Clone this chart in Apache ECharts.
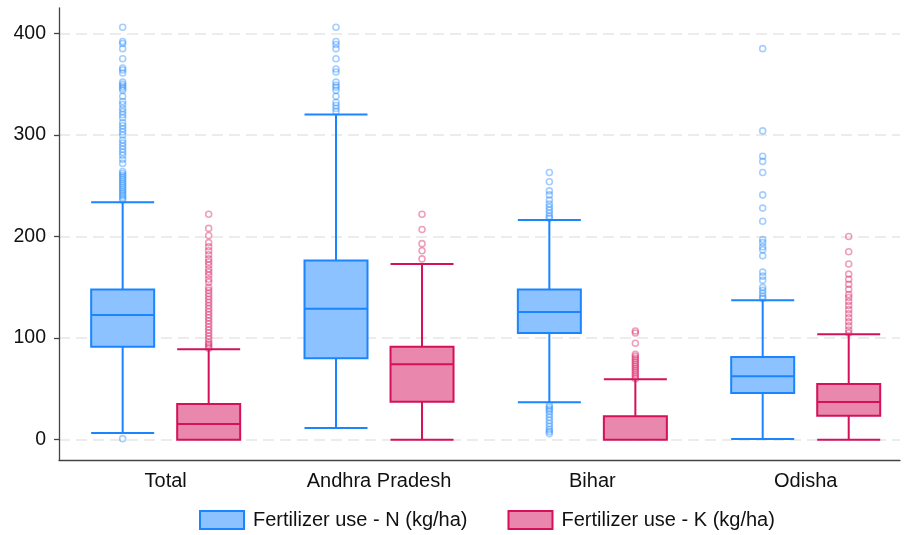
<!DOCTYPE html>
<html>
<head>
<meta charset="utf-8">
<script src="https://cdn.jsdelivr.net/npm/echarts@6/dist/echarts.min.js"></script>
<style>
html,body{margin:0;padding:0;background:#fff;}
#c{width:904px;height:535px;}
</style>
</head>
<body>
<div id="c"></div>
<script>
// ---- data ----
const categories = ['Total', 'Andhra Pradesh', 'Bihar', 'Odisha'];
const seriesNames = ['Fertilizer use - N (kg/ha)', 'Fertilizer use - K (kg/ha)'];
// [lower whisker, Q1, median, Q3, upper whisker]
const boxN = [
  [6.6, 91.6, 122.8, 147.8, 233.8],
  [11.5, 80.1, 129, 176.4, 320.2],
  [36.8, 105.1, 125.8, 147.8, 216.4],
  [0.7, 46, 62.4, 81.4, 137.3]
];
const boxK = [
  [0, 0, 15.4, 35.1, 89],
  [0, 37.4, 74.2, 91.6, 173],
  [0, 0, 0, 23, 59.4],
  [0, 23.6, 37.1, 54.9, 103.8]
];
const outliersN = [
  [406, 392, 390, 385, 375, 366, 364, 361, 352, 350, 348, 346, 344, 338, 333, 330, 326, 323, 320, 317, 312, 309, 306, 303, 300, 295, 292, 289, 286, 283, 280, 276, 272, 264, 262, 260, 258, 256, 254, 252, 250, 248, 246, 244, 242, 240, 238, 236, 1],
  [406, 392, 389, 385, 375, 365, 362, 352, 349, 347, 344, 338, 332, 329, 326, 323],
  [263, 254, 245, 241, 236, 232, 229, 226, 223, 220, 218, 34, 32, 30, 28, 25, 22, 19, 16, 13, 10, 8, 6],
  [385, 304, 279, 274, 263, 241, 228, 215, 197, 194, 190, 187, 181, 165, 161, 157, 150, 147, 144, 141, 139]
];
const outliersK = [
  [222, 208, 201, 194, 190, 186, 182, 178, 175, 172, 168, 165, 162, 158, 155, 150, 147, 144, 141, 138, 135, 132, 129, 126, 123, 120, 117, 114, 111, 108, 105, 102, 99, 96, 94, 92, 90],
  [222, 207, 193, 186, 178],
  [107, 105, 95, 84, 82, 80, 78, 76, 74, 72, 70, 68, 66, 64, 62, 60],
  [200, 185, 173, 163, 158, 153, 148, 143, 140, 136, 132, 128, 124, 120, 116, 112, 108, 105]
];

// ---- styles ----
const blueLine = '#1A85FF', blueFill = '#8CC2FF';
const pinkLine = '#D41159', pinkFill = '#E988AC';
const OFF = 0.2016;
const FONT = 'Liberation Sans, Arial, sans-serif';

function boxData(arr, off) {
  return arr.map((b, i) => [i + 1 + off].concat(b));
}
function outData(arr, off) {
  const out = [];
  arr.forEach((vals, i) => vals.forEach(v => out.push([i + 1 + off, v])));
  return out;
}

const xCommon = { type: 'value', min: 0.5, max: 4.442, interval: 0.5 };

const chart = echarts.init(document.getElementById('c'), null, { renderer: 'canvas' });
chart.setOption({
  animation: false,
  backgroundColor: '#fff',
  grid: { left: 59, right: 4, top: 8, bottom: 75, containLabel: false },
  legend: {
    data: [
      { name: seriesNames[0], icon: 'rect', itemStyle: { color: blueFill, borderColor: blueLine, borderWidth: 2 } },
      { name: seriesNames[1], icon: 'rect', itemStyle: { color: pinkFill, borderColor: pinkLine, borderWidth: 2 } }
    ],
    left: 194, top: 505,
    itemWidth: 44, itemHeight: 18, itemGap: 40,
    textStyle: { fontSize: 20, color: '#111', fontFamily: FONT, padding: [0, 0, 0, 4] },
    selectedMode: false
  },
  xAxis: [
    Object.assign({}, xCommon, {
      axisLine: { show: true, onZero: false, lineStyle: { color: '#444', width: 1.3 } },
      axisTick: { show: false },
      splitLine: { show: false },
      axisLabel: {
        fontSize: 20, color: '#111', fontFamily: FONT, margin: 11,
        showMinLabel: true, showMaxLabel: false,
        formatter: v => (Math.abs(v - Math.round(v)) < 1e-6 && v >= 1 && v <= 4) ? categories[Math.round(v) - 1] : ''
      }
    }),
    Object.assign({}, xCommon, { show: false, axisLine: { onZero: false } })
  ],
  yAxis: {
    type: 'value', min: -20, max: 425,
    axisLine: { show: true, onZero: false, lineStyle: { color: '#444', width: 1.3 } },
    axisTick: { show: true, length: 5, lineStyle: { color: '#444', width: 1.3 } },
    axisLabel: { fontSize: 19.5, color: '#111', fontFamily: FONT, margin: 13, showMinLabel: false, showMaxLabel: false },
    splitLine: { show: true, showMinLine: false, showMaxLine: false, lineStyle: { color: '#e6e6e6', width: 1.5, type: [11, 6] } }
  },
  series: [
    {
      name: seriesNames[0], type: 'boxplot', xAxisIndex: 0,
      data: boxData(boxN, -OFF),
      encode: { x: 0, y: [1, 2, 3, 4, 5] },
      boxWidth: [63, 63],
      itemStyle: { color: blueFill, borderColor: blueLine, borderWidth: 2 },
      emphasis: { disabled: true }
    },
    {
      name: seriesNames[1], type: 'boxplot', xAxisIndex: 1,
      data: boxData(boxK, OFF),
      encode: { x: 0, y: [1, 2, 3, 4, 5] },
      boxWidth: [63, 63],
      itemStyle: { color: pinkFill, borderColor: pinkLine, borderWidth: 2 },
      emphasis: { disabled: true }
    },
    {
      name: 'outN', type: 'scatter', xAxisIndex: 0,
      data: outData(outliersN, -OFF),
      symbol: 'circle', symbolSize: 6,
      itemStyle: { color: 'rgba(255,255,255,0)', borderColor: 'rgba(26,133,255,0.5)', borderWidth: 1.6 },
      emphasis: { disabled: true }, z: 1
    },
    {
      name: 'outK', type: 'scatter', xAxisIndex: 1,
      data: outData(outliersK, OFF),
      symbol: 'circle', symbolSize: 6,
      itemStyle: { color: 'rgba(255,255,255,0)', borderColor: 'rgba(212,17,89,0.5)', borderWidth: 1.6 },
      emphasis: { disabled: true }, z: 1
    }
  ]
});
</script>
</body>
</html>
